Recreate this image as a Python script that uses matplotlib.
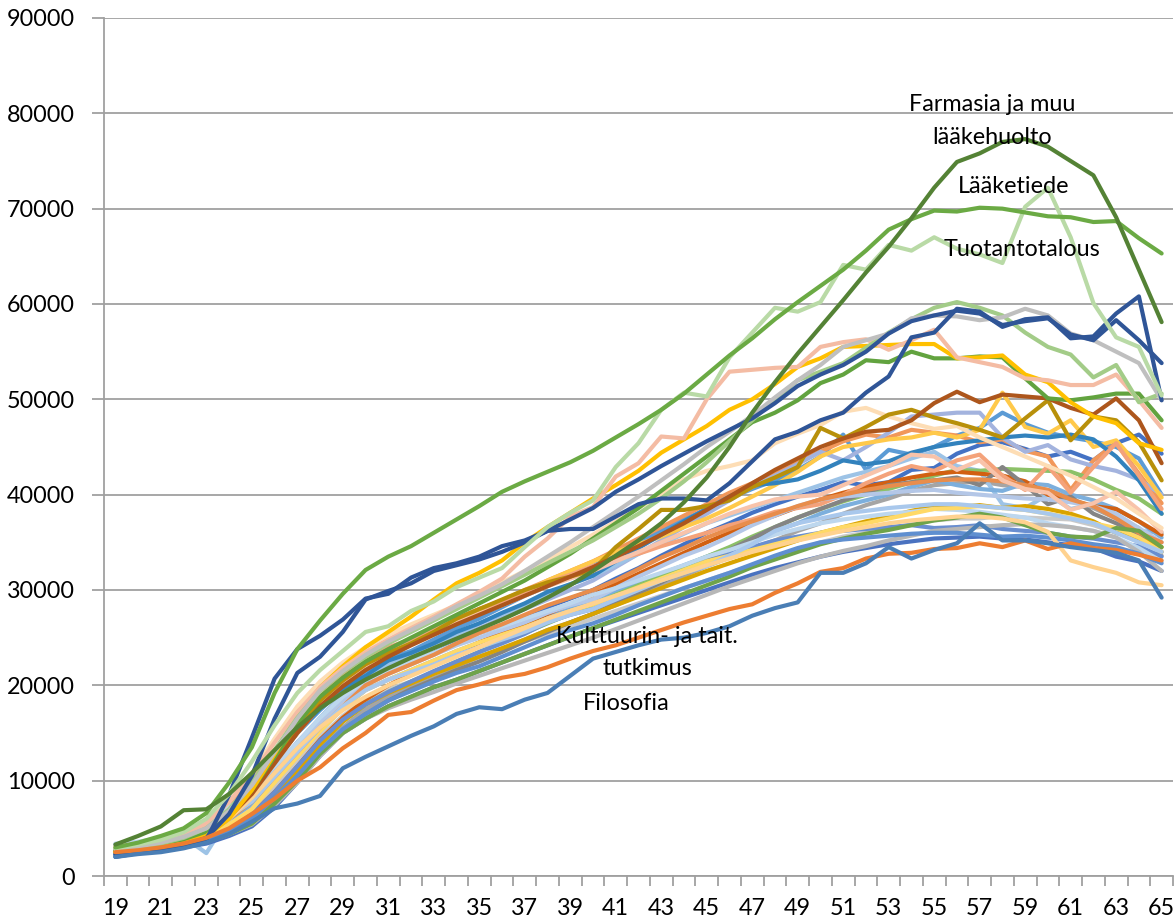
import matplotlib.pyplot as plt
import numpy as np

plt.rcParams['font.family'] = ['Lato', 'DejaVu Sans']

ages = list(range(19, 66))

# values in thousands of euros, one per age 19..65
farmasia = [3.3, 4.2, 5.2, 6.9, 7.0, 8.6, 10.8, 13.2, 15.6, 17.6,
            19.2, 20.6, 21.8, 22.9, 23.9, 24.9, 25.9, 26.9, 28.0, 29.2,
            30.5, 32.0, 33.6, 35.2, 37.0, 39.2, 41.8, 45.0, 48.6, 51.8,
            54.8, 57.6, 60.4, 63.3, 66.0, 69.0, 72.2, 74.9, 75.8, 77.0,
            77.3, 76.5, 75.0, 73.5, 69.1, 63.6, 58.1]
laaketiede = [3.0, 3.5, 4.2, 5.0, 6.6, 9.8, 13.5, 19.2, 23.8, 26.8,
              29.6, 32.1, 33.5, 34.6, 36.0, 37.4, 38.8, 40.3, 41.4, 42.4,
              43.4, 44.6, 46.0, 47.4, 48.9, 50.6, 52.6, 54.6, 56.4, 58.4,
              60.2, 61.9, 63.6, 65.6, 67.8, 68.9, 69.8, 69.7, 70.1, 70.0,
              69.6, 69.2, 69.1, 68.6, 68.7, 66.9, 65.3]
tuotantotalous = [2.9, 3.3, 3.8, 4.6, 6.0, 8.6, 12.0, 15.8, 19.2, 21.6,
                  23.6, 25.6, 26.2, 27.8, 28.8, 30.3, 31.3, 32.3, 34.5, 36.6,
                  38.1, 39.4, 42.9, 45.4, 48.9, 50.7, 50.3, 54.4, 57.0, 59.6,
                  59.2, 60.2, 64.1, 63.6, 66.2, 65.6, 67.0, 65.8, 65.2, 64.3,
                  70.2, 72.2, 67.0, 60.1, 56.5, 55.5, 50.4]
filosofia = [2.0, 2.3, 2.5, 2.9, 3.5, 4.4, 5.7, 7.1, 7.6, 8.4,
             11.3, 12.5, 13.6, 14.7, 15.7, 17.0, 17.7, 17.5, 18.5, 19.2,
             21.0, 22.8, 23.5, 24.2, 24.8, 25.0, 25.5, 26.2, 27.3, 28.1,
             28.7, 31.8, 31.8, 32.8, 34.5, 33.3, 34.2, 34.9, 37.0, 35.2,
             35.2, 34.9, 34.5, 34.2, 33.9, 33.1, 29.2]
kulttuuri = [2.5, 2.7, 3.0, 3.4, 4.0, 5.0, 6.5, 8.1, 10.0, 11.4,
             13.4, 15.0, 16.9, 17.2, 18.4, 19.5, 20.1, 20.8, 21.2, 21.9,
             22.8, 23.6, 24.2, 25.0, 25.8, 26.6, 27.3, 28.0, 28.5, 29.7,
             30.7, 31.9, 32.3, 33.3, 33.8, 33.9, 34.3, 34.4, 34.9, 34.5,
             35.2, 34.3, 34.9, 34.4, 34.2, 33.7, 33.1]
dark_blue_a = [2.0, 2.4, 2.6, 3.0, 3.8, 8.5, 14.5, 20.7, 23.8, 25.2,
               26.9, 29.1, 29.6, 31.3, 32.3, 32.8, 33.5, 34.6, 35.2, 36.2,
               36.4, 36.4, 37.7, 39.0, 39.6, 39.6, 39.4, 41.2, 43.5, 45.8,
               46.6, 47.8, 48.6, 50.7, 52.4, 56.5, 57.0, 59.5, 59.2, 57.6,
               58.4, 58.6, 56.4, 56.6, 59.0, 60.8, 49.9]
dark_blue_b = [2.2, 2.5, 2.8, 3.2, 4.0, 6.5, 10.5, 16.5, 21.3, 23.0,
               25.6, 29.0, 29.9, 30.7, 32.0, 32.6, 33.2, 34.0, 35.0, 36.2,
               37.4, 38.6, 40.3, 41.6, 43.0, 44.3, 45.6, 46.8, 48.0, 49.6,
               51.4, 52.6, 53.6, 55.0, 56.9, 58.2, 58.8, 59.3, 59.0, 57.8,
               58.2, 58.5, 56.8, 56.2, 58.3, 56.2, 53.8]
gray_top = [2.8, 3.1, 3.5, 4.1, 5.0, 6.8, 9.5, 13.0, 16.5, 19.5,
            21.5, 23.2, 24.6, 25.8, 27.0, 28.3, 29.4, 30.6, 32.0, 33.5,
            35.0, 36.6, 38.2, 39.8, 41.5, 43.2, 45.0, 46.6, 48.3, 50.2,
            52.0, 53.6, 55.5, 56.2, 56.9, 58.5, 58.8, 58.7, 58.3, 58.6,
            59.5, 58.8, 56.9, 56.2, 55.0, 53.8, 49.9]
light_green_b = [2.8, 3.0, 3.4, 4.0, 5.0, 7.0, 9.8, 13.2, 16.6, 19.4,
                 21.4, 23.0, 24.4, 25.6, 26.8, 28.0, 29.2, 30.4, 31.6, 32.8,
                 34.0, 35.2, 36.6, 38.0, 39.6, 41.4, 43.4, 45.6, 47.8, 50.0,
                 52.0, 52.9, 53.8, 55.4, 57.0, 58.4, 59.6, 60.2, 59.6, 58.8,
                 57.0, 55.5, 54.7, 52.3, 53.6, 49.7, 50.6]
salmon = [2.9, 3.2, 3.6, 4.3, 5.5, 7.8, 10.6, 14.0, 17.2, 19.8,
          21.8, 23.5, 24.8, 26.0, 27.2, 28.5, 29.8, 31.2, 33.5, 35.4,
          37.7, 38.7, 41.9, 43.3, 46.1, 45.9, 50.0, 52.9, 53.1, 53.3,
          53.4, 55.5, 56.0, 56.3, 55.2, 56.2, 57.3, 54.4, 53.9, 53.4,
          52.2, 52.0, 51.5, 51.5, 52.6, 49.9, 47.0]
gold = [2.5, 2.7, 3.0, 3.4, 4.2, 6.0, 9.0, 12.8, 16.8, 19.8,
        22.0, 24.0, 25.6, 27.2, 29.0, 30.7, 31.8, 33.1, 35.0, 36.6,
        38.1, 39.6, 41.0, 42.5, 44.4, 45.8, 47.2, 48.9, 50.0, 51.6,
        53.4, 54.3, 55.5, 55.6, 55.7, 55.8, 55.8, 54.3, 54.4, 54.6,
        52.6, 51.8, 49.7, 48.2, 47.5, 45.4, 44.7]
green_b = [2.6, 2.9, 3.2, 3.7, 4.6, 6.4, 9.0, 12.5, 16.0, 18.8,
           20.8, 22.5, 23.8, 25.0, 26.2, 27.4, 28.6, 29.8, 31.0, 32.4,
           33.8, 35.4, 37.0, 38.6, 40.4, 42.2, 44.0, 45.8, 47.6, 48.6,
           49.9, 51.7, 52.6, 54.1, 53.9, 55.0, 54.3, 54.3, 54.5, 54.4,
           52.2, 50.1, 49.9, 50.2, 50.6, 50.6, 47.8]
brown = [2.7, 3.0, 3.3, 3.8, 4.6, 6.2, 8.6, 11.8, 15.0, 17.8,
         19.9, 21.6, 23.0, 24.2, 25.3, 26.4, 27.4, 28.4, 29.4, 30.4,
         31.4, 32.4, 33.5, 34.6, 35.8, 37.0, 38.4, 39.8, 41.2, 42.6,
         43.8, 45.0, 45.9, 46.6, 46.8, 47.8, 49.6, 50.8, 49.7, 50.5,
         50.3, 50.1, 49.1, 48.4, 50.1, 47.8, 43.3]
dark_gold = [2.6, 2.9, 3.2, 3.7, 4.5, 6.2, 8.8, 12.2, 15.5, 18.4,
             20.5, 22.2, 23.4, 24.4, 25.6, 27.0, 28.0, 29.0, 30.0, 30.8,
             31.4, 32.1, 34.5, 36.4, 38.4, 38.4, 38.8, 39.4, 40.8, 41.8,
             42.9, 47.0, 45.9, 47.1, 48.4, 48.9, 48.1, 47.5, 46.8, 46.0,
             48.0, 49.9, 45.7, 48.2, 47.8, 45.5, 41.5]
peach_low = [2.6, 2.9, 3.2, 3.7, 4.5, 6.0, 8.2, 10.8, 13.4, 15.6,
             17.4, 18.8, 20.0, 21.0, 22.0, 23.0, 24.0, 25.0, 26.0, 27.0,
             27.8, 28.6, 29.4, 30.2, 31.0, 31.8, 32.6, 33.3, 34.0, 34.6,
             35.2, 35.7, 36.2, 36.6, 37.0, 37.3, 37.5, 37.7, 37.7, 37.5,
             37.1, 36.1, 33.1, 32.4, 31.8, 30.8, 30.5]
peach_pale = [3.0, 3.3, 3.8, 4.5, 5.6, 7.8, 10.8, 14.4, 17.8, 20.4,
              22.4, 24.0, 25.3, 26.4, 27.4, 28.4, 29.6, 30.8, 32.0, 33.2,
              34.5, 35.8, 37.2, 38.6, 40.0, 41.6, 42.5, 43.0, 43.6, 45.4,
              46.4, 47.3, 48.7, 49.1, 48.2, 47.5, 46.9, 47.2, 46.0, 45.0,
              44.0, 43.0, 42.0, 40.8, 39.6, 38.0, 36.5]

# the dense middle bundle
b01 = [2.4, 2.6, 2.9, 3.5, 4.4, 6.0, 8.0, 11.0, 14.0, 16.4,
       18.8, 20.5, 21.6, 22.4, 23.4, 24.5, 25.5, 26.2, 27.3, 28.2,
       29.1, 30.0, 31.2, 32.3, 33.6, 34.8, 36.0, 37.0, 38.1, 39.0,
       39.8, 40.5, 41.3, 41.0, 41.3, 42.6, 42.8, 44.3, 45.2, 45.5,
       44.8, 44.0, 44.5, 43.6, 45.4, 46.3, 44.3]
b02 = [2.7, 3.0, 3.4, 4.0, 4.8, 6.6, 9.0, 12.0, 15.0, 17.4,
       19.6, 21.5, 22.8, 23.6, 24.8, 26.0, 27.0, 28.2, 29.4, 30.4,
       31.4, 32.5, 33.8, 35.0, 36.2, 37.4, 38.5, 39.6, 40.6, 41.5,
       42.6, 44.0, 46.3, 42.6, 44.7, 44.2, 45.0, 46.2, 47.0, 48.6,
       47.4, 46.5, 46.0, 45.6, 45.0, 43.8, 40.0]
b03 = [2.5, 2.7, 2.9, 3.3, 3.8, 4.6, 5.8, 7.8, 10.5, 13.2,
       15.6, 17.5, 18.8, 19.8, 20.8, 22.0, 23.0, 23.8, 24.8, 25.8,
       26.6, 27.5, 28.4, 29.4, 30.4, 31.5, 32.5, 33.4, 34.4, 35.2,
       36.2, 37.0, 38.0, 38.9, 39.6, 40.4, 41.0, 41.2, 41.4, 41.0,
       40.8, 40.5, 39.6, 38.6, 37.5, 36.5, 33.6]
b04 = [2.8, 3.1, 3.5, 4.2, 5.2, 7.2, 9.5, 12.6, 15.5, 18.0,
       20.2, 22.5, 23.8, 24.8, 25.8, 27.0, 28.0, 28.9, 30.0, 31.0,
       32.0, 33.0, 34.2, 35.4, 36.6, 37.8, 39.0, 40.2, 41.2, 42.4,
       43.4, 44.5, 45.6, 46.3, 46.0, 46.8, 46.5, 46.2, 45.5, 45.8,
       44.6, 44.0, 40.5, 43.6, 45.4, 42.2, 39.1]
b05 = [2.6, 2.9, 3.3, 3.9, 4.6, 6.4, 8.5, 11.4, 14.0, 16.6,
       19.0, 21.0, 22.2, 23.0, 24.0, 25.0, 26.0, 27.0, 28.0, 29.0,
       30.0, 31.0, 32.4, 33.8, 35.2, 36.6, 38.0, 39.4, 40.8, 42.0,
       43.2, 44.5, 43.6, 45.0, 46.5, 48.2, 48.4, 48.6, 48.6, 46.0,
       44.5, 45.2, 43.7, 43.0, 42.5, 41.6, 40.0]
b06 = [2.6, 2.9, 3.3, 3.9, 4.6, 6.6, 9.5, 12.6, 15.5, 18.2,
       20.4, 22.5, 23.6, 24.4, 25.4, 26.6, 27.5, 28.6, 29.8, 31.0,
       32.0, 33.0, 34.0, 34.8, 35.6, 36.6, 37.5, 38.6, 39.8, 41.0,
       42.4, 44.0, 45.0, 45.4, 45.8, 46.0, 46.5, 46.0, 46.8, 50.7,
       47.1, 46.4, 47.8, 45.0, 45.7, 43.0, 39.7]
b07 = [3.3, 3.5, 3.8, 4.1, 2.4, 6.2, 5.7, 9.0, 13.0, 16.6,
       19.0, 21.0, 22.2, 23.2, 24.0, 25.2, 26.5, 27.4, 28.4, 29.6,
       30.6, 31.5, 32.6, 33.8, 34.8, 35.9, 37.0, 37.8, 38.6, 39.4,
       40.2, 41.0, 41.8, 42.4, 43.0, 43.8, 44.5, 43.0, 42.5, 39.0,
       38.6, 40.0, 38.5, 39.0, 38.0, 36.2, 36.0]
b08 = [2.4, 2.7, 3.0, 3.5, 4.0, 5.4, 7.5, 10.0, 12.5, 15.2,
       17.6, 19.5, 20.6, 21.6, 22.6, 23.6, 24.5, 25.4, 26.4, 27.4,
       28.2, 29.0, 29.9, 30.8, 31.7, 32.6, 33.5, 34.4, 35.4, 36.2,
       37.0, 38.0, 38.8, 39.4, 40.0, 40.8, 41.5, 41.0, 40.6, 40.4,
       41.2, 41.0, 40.0, 39.4, 38.5, 37.2, 35.5]
b09 = [2.7, 2.9, 3.2, 3.6, 4.2, 5.4, 7.0, 9.4, 12.0, 14.6,
       16.8, 18.5, 19.6, 20.4, 21.2, 22.2, 23.0, 23.8, 24.6, 25.4,
       26.2, 27.0, 27.8, 28.6, 29.4, 30.2, 31.0, 31.8, 32.6, 33.4,
       34.2, 35.0, 35.6, 36.0, 36.4, 36.9, 37.3, 37.5, 37.5, 37.8,
       37.6, 37.5, 37.4, 36.8, 36.0, 35.2, 34.0]
b10 = [2.6, 2.8, 3.1, 3.5, 4.0, 5.0, 6.5, 8.6, 11.0, 13.8,
       16.2, 18.0, 19.3, 20.4, 21.4, 22.5, 23.5, 24.5, 25.5, 26.5,
       27.5, 28.5, 29.5, 30.5, 31.5, 32.5, 33.5, 34.5, 35.6, 36.6,
       37.6, 38.5, 39.3, 40.0, 40.6, 41.3, 42.0, 42.6, 42.5, 42.7,
       42.6, 42.5, 42.4, 41.6, 40.5, 39.6, 38.0]
b11 = [2.5, 2.7, 3.0, 3.4, 4.0, 5.0, 6.5, 8.8, 11.5, 14.3,
       16.6, 18.5, 20.0, 21.2, 22.3, 23.4, 24.5, 25.5, 26.5, 27.5,
       28.5, 29.5, 30.6, 31.7, 32.8, 33.9, 35.0, 36.0, 37.0, 37.8,
       38.7, 39.5, 40.2, 40.8, 41.3, 41.8, 42.2, 42.4, 42.2, 42.0,
       41.4, 40.0, 39.4, 38.8, 38.5, 37.2, 35.8]
b12 = [2.4, 2.6, 2.8, 3.2, 3.6, 4.4, 5.6, 7.6, 10.0, 12.8,
       15.2, 17.0, 18.4, 19.6, 20.6, 21.6, 22.5, 23.5, 24.6, 25.6,
       26.6, 27.5, 28.6, 29.7, 30.8, 32.0, 33.0, 34.2, 35.4, 36.6,
       37.6, 38.5, 39.4, 40.2, 41.0, 41.3, 41.5, 41.8, 41.0, 42.9,
       41.0, 39.0, 39.8, 38.0, 37.0, 35.8, 34.0]
b13 = [2.4, 2.6, 2.8, 3.1, 3.5, 4.4, 5.8, 8.2, 11.0, 13.8,
       16.2, 18.0, 19.2, 20.2, 21.2, 22.1, 23.0, 23.9, 24.8, 25.8,
       26.6, 27.5, 28.4, 29.3, 30.2, 31.1, 32.0, 32.8, 33.6, 34.4,
       35.2, 36.0, 36.6, 37.2, 37.7, 38.3, 38.8, 38.7, 38.9, 38.6,
       38.8, 38.5, 38.0, 37.2, 36.0, 35.4, 34.5]
b14 = [2.9, 3.2, 3.6, 4.2, 5.0, 6.8, 9.0, 12.0, 15.0, 17.6,
       19.6, 21.0, 22.6, 23.4, 24.4, 25.6, 26.5, 27.6, 28.6, 29.8,
       30.6, 31.5, 33.0, 34.4, 35.8, 37.2, 38.5, 39.8, 41.0, 41.2,
       41.6, 42.5, 43.6, 43.2, 43.5, 44.4, 45.0, 45.4, 45.7, 46.0,
       46.2, 46.0, 46.3, 45.8, 44.0, 41.5, 38.0]
b15 = [2.3, 2.5, 2.7, 3.1, 3.8, 5.0, 6.5, 8.8, 11.5, 14.2,
       16.4, 18.0, 19.3, 20.4, 21.5, 22.5, 23.5, 24.4, 25.4, 26.6,
       27.4, 28.0, 29.0, 30.0, 31.0, 32.0, 33.0, 33.8, 34.5, 35.2,
       35.6, 36.0, 36.2, 36.4, 36.6, 36.8, 36.5, 36.6, 36.8, 36.4,
       36.2, 36.0, 35.6, 35.4, 35.0, 34.6, 33.5]
b16 = [3.0, 3.3, 3.8, 4.5, 5.4, 7.6, 10.0, 13.2, 16.0, 18.8,
       21.0, 23.0, 24.0, 24.8, 25.8, 27.0, 28.0, 28.8, 29.8, 30.8,
       31.6, 32.5, 33.2, 33.8, 34.6, 35.3, 36.0, 36.8, 37.4, 38.2,
       38.6, 39.0, 40.0, 41.2, 42.2, 43.0, 42.5, 43.6, 44.2, 42.0,
       40.5, 43.0, 40.2, 42.9, 45.4, 42.0, 38.5]
b17 = [2.9, 3.2, 3.6, 4.2, 4.8, 6.2, 8.0, 10.8, 13.5, 16.2,
       18.4, 20.0, 21.2, 22.2, 23.2, 24.2, 25.0, 25.8, 26.6, 27.6,
       28.4, 29.0, 30.2, 31.4, 32.5, 33.6, 34.5, 35.6, 36.8, 37.8,
       38.8, 39.5, 39.8, 40.0, 40.2, 40.4, 40.5, 40.2, 40.0, 39.8,
       39.6, 39.5, 39.2, 38.8, 38.0, 36.5, 35.0]
b18 = [3.4, 3.6, 4.0, 4.6, 5.6, 7.2, 9.0, 11.5, 14.0, 16.6,
       18.8, 20.5, 21.6, 22.6, 23.4, 24.4, 25.5, 26.2, 27.0, 27.8,
       28.6, 29.5, 30.2, 31.0, 31.8, 32.6, 33.5, 34.2, 35.0, 35.8,
       36.4, 37.0, 37.4, 37.7, 38.0, 38.2, 38.5, 38.4, 38.2, 37.9,
       37.6, 37.0, 36.6, 36.2, 35.5, 34.4, 33.0]
b19 = [2.3, 2.5, 2.7, 3.0, 3.4, 4.2, 5.2, 7.2, 9.8, 12.6,
       15.0, 16.5, 17.8, 18.8, 19.8, 20.6, 21.5, 22.4, 23.3, 24.2,
       25.1, 26.0, 26.8, 27.6, 28.4, 29.2, 30.0, 30.8, 31.6, 32.3,
       32.9, 33.5, 34.0, 34.4, 34.8, 35.1, 35.4, 35.5, 35.6, 35.4,
       35.3, 35.0, 34.7, 34.4, 33.5, 33.0, 32.0]
b20 = [2.6, 2.8, 3.1, 3.5, 4.0, 5.4, 7.0, 9.8, 12.5, 15.2,
       17.6, 19.5, 20.6, 21.6, 22.6, 23.6, 24.5, 25.3, 26.1, 27.0,
       27.8, 28.5, 29.4, 30.3, 31.2, 32.1, 33.0, 33.6, 34.2, 34.8,
       35.4, 36.0, 36.6, 37.0, 37.5, 38.0, 38.5, 38.6, 38.8, 38.6,
       38.4, 38.0, 37.6, 37.0, 36.5, 35.5, 34.0]
b21 = [2.5, 2.6, 2.8, 3.1, 3.6, 4.4, 5.4, 7.4, 9.8, 12.6,
       15.0, 16.5, 17.6, 18.5, 19.3, 20.2, 21.0, 21.8, 22.6, 23.4,
       24.2, 25.0, 25.9, 26.8, 27.7, 28.6, 29.5, 30.4, 31.2, 32.0,
       32.8, 33.5, 34.1, 34.6, 35.2, 35.7, 36.2, 36.4, 36.6, 36.8,
       36.9, 36.8, 36.6, 36.2, 35.5, 34.0, 32.0]
b22 = [2.7, 3.0, 3.3, 3.8, 4.4, 6.0, 7.8, 10.4, 13.0, 15.6,
       17.8, 20.0, 21.2, 22.2, 23.2, 24.4, 25.5, 26.4, 27.4, 28.4,
       29.2, 30.0, 31.0, 32.2, 33.4, 34.4, 35.5, 36.4, 37.2, 38.0,
       38.8, 39.5, 40.0, 40.5, 40.9, 41.2, 41.5, 41.6, 41.6, 41.4,
       41.0, 40.5, 39.5, 38.8, 37.5, 36.0, 35.0]
b23 = [2.5, 2.7, 2.9, 3.2, 3.6, 4.4, 5.5, 7.6, 10.0, 12.8,
       15.0, 16.5, 17.8, 18.8, 19.8, 20.6, 21.5, 22.4, 23.3, 24.2,
       25.1, 26.0, 26.9, 27.8, 28.7, 29.6, 30.5, 31.4, 32.4, 33.2,
       34.0, 34.8, 35.4, 35.9, 36.3, 36.8, 37.3, 37.6, 38.0, 37.6,
       36.8, 36.0, 35.6, 35.5, 36.5, 36.2, 34.5]
b24 = [2.5, 2.7, 2.9, 3.3, 3.8, 4.8, 6.0, 8.2, 10.5, 13.2,
       15.4, 17.0, 18.4, 19.4, 20.4, 21.3, 22.0, 23.0, 24.0, 25.0,
       25.8, 26.5, 27.4, 28.4, 29.3, 30.2, 31.0, 31.8, 32.7, 33.6,
       34.4, 35.0, 35.3, 35.5, 35.7, 35.9, 36.0, 36.0, 35.8, 35.6,
       35.7, 35.5, 35.2, 34.8, 34.5, 33.8, 32.8]
b25 = [2.8, 3.0, 3.4, 4.0, 4.6, 6.2, 7.8, 10.4, 13.0, 15.6,
       17.8, 19.5, 20.6, 21.4, 22.2, 23.2, 24.0, 24.8, 25.6, 26.6,
       27.4, 28.0, 29.0, 30.0, 31.0, 31.8, 32.5, 33.6, 34.8, 36.2,
       37.0, 37.5, 38.0, 38.3, 38.6, 38.8, 39.0, 39.0, 38.8, 38.6,
       38.4, 38.0, 37.5, 37.0, 36.0, 35.0, 34.0]
b26 = [3.1, 3.4, 3.9, 4.6, 5.0, 7.0, 9.0, 12.2, 15.0, 17.8,
       20.0, 22.0, 23.4, 24.4, 25.4, 26.5, 27.5, 28.4, 29.4, 30.4,
       31.2, 32.0, 33.0, 34.0, 35.0, 36.0, 37.0, 38.0, 38.8, 39.5,
       39.8, 40.0, 41.0, 42.0, 43.0, 44.2, 44.0, 42.6, 43.6, 41.5,
       40.6, 40.2, 38.4, 39.1, 40.3, 38.4, 36.1]

bundle = [b01, b02, b03, b04, b05, b06, b07, b08, b09, b10, b11, b12, b13,
          b14, b15, b16, b17, b18, b19, b20, b21, b22, b23, b24, b25, b26]
bundle_colors = ['#4472C4', '#5B9BD5', '#A5A5A5', '#F1975A', '#A3B3DE', '#FFC94A',
                 '#9DC3E6', '#7CAFDD', '#C9C9C9', '#8CC168', '#D26012', '#848484',
                 '#D9A300', '#3282BD', '#698ED0', '#F4A27A', '#B4C7E7', '#BDD7EE',
                 '#4A72C0', '#FFD966', '#B7B7B7', '#E88D4C', '#6FA34A', '#5F8FD0',
                 '#A9C8EC', '#F8C3AA']

main = [peach_low, peach_pale, dark_gold, brown, green_b, gold, salmon,
        light_green_b, gray_top, dark_blue_b, dark_blue_a, tuotantotalous,
        laaketiede, farmasia, kulttuuri, filosofia]
main_colors = ['#FFD28F', '#FDDDB5', '#B8900A', '#AD561C', '#62A33F', '#FFC000',
               '#F4BCA4', '#A3CC88', '#BFBFBF', '#2F5597', '#2F5597', '#B9DAA6',
               '#6BAA44', '#548235', '#ED7D31', '#4A7EB5']

fig = plt.figure(figsize=(11.76, 9.22), dpi=100)
ax = fig.add_axes([104 / 1176, 1 - 876 / 922, (1173 - 104) / 1176, (876 - 18) / 922])

for vals, col in zip(bundle, bundle_colors):
    ax.plot(ages, np.array(vals) * 1000, color=col, lw=3.0,
            solid_joinstyle='round', solid_capstyle='round', zorder=2)
for vals, col in zip(main, main_colors):
    ax.plot(ages, np.array(vals) * 1000, color=col, lw=3.0,
            solid_joinstyle='round', solid_capstyle='round', zorder=3)

grid_c = '#A0A0A0'
ax.set_xlim(18.5, 65.5)
ax.set_ylim(0, 90000)
ax.set_yticks(np.arange(0, 90001, 10000))
ax.yaxis.grid(True, color=grid_c, lw=1.3)
ax.set_axisbelow(True)
ax.set_xticks(ages[::2])
ax.set_xticks(np.arange(18.5, 65.6, 1), minor=True)
ax.tick_params(axis='x', which='major', length=0, pad=16, labelsize=16.8)
ax.tick_params(axis='x', which='minor', length=7, width=1.3, color=grid_c)
ax.tick_params(axis='y', length=9, width=1.3, color=grid_c, pad=12, labelsize=16.8)
for s in ['top', 'right']:
    ax.spines[s].set_visible(False)
for s in ['left', 'bottom']:
    ax.spines[s].set_color(grid_c)
    ax.spines[s].set_linewidth(1.3)

fs = 16.8
ax.text(57.55, 80200, 'Farmasia ja muu', ha='center', va='baseline', fontsize=fs, zorder=5)
ax.text(57.55, 76800, 'lääkehuolto', ha='center', va='baseline', fontsize=fs, zorder=5)
ax.text(58.5, 71600, 'Lääketiede', ha='center', va='baseline', fontsize=fs, zorder=5)
ax.text(58.87, 65000, 'Tuotantotalous', ha='center', va='baseline', fontsize=fs, zorder=5)
ax.text(42.37, 24400, 'Kulttuurin- ja tait.', ha='center', va='baseline', fontsize=fs, zorder=5)
ax.text(42.4, 21100, 'tutkimus', ha='center', va='baseline', fontsize=fs, zorder=5)
ax.text(41.45, 17400, 'Filosofia', ha='center', va='baseline', fontsize=fs, zorder=5)

fig.savefig('out.png', dpi=100)
